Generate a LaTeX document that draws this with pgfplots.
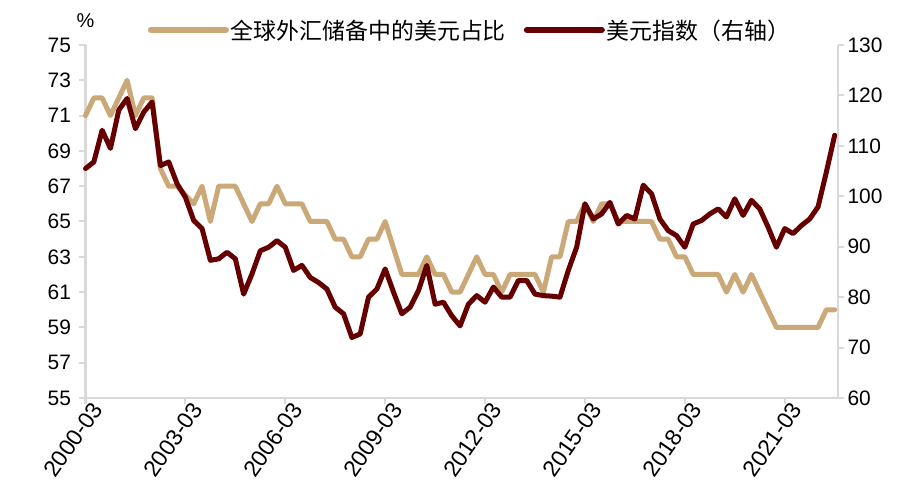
\documentclass[border=0pt]{standalone}
\usepackage{fontspec}
\setmainfont{Liberation Sans}
\newfontfamily\cjk{Noto Sans CJK SC}
\usepackage{pgfplots}
\usepackage{pgfplotstable}
\pgfplotsset{compat=1.18}
\definecolor{tanc}{RGB}{202,168,120}
\definecolor{dred}{RGB}{102,0,0}
\definecolor{axgray}{RGB}{217,217,217}

\pgfplotstableread{
idx share usd
0 71 105.5
1 72 106.8
2 72 113.1
3 71 109.5
4 72 117.1
5 73 119.4
6 71 113.4
7 72 116.7
8 72 118.7
9 68 106.1
10 67 106.8
11 67 102.5
12 66.5 99.8
13 66 95.2
14 67 93.6
15 65 87.3
16 67 87.6
17 67 88.9
18 67 87.6
19 66 80.6
20 65 84.6
21 66 89.2
22 66 89.9
23 67 91.2
24 66 89.9
25 66 85.3
26 66 86.3
27 65 83.9
28 65 82.9
29 65 81.6
30 64 78.0
31 64 76.7
32 63 72.0
33 63 72.7
34 64 80.0
35 64 81.6
36 65 85.6
37 63.5 81.0
38 62 76.7
39 62 78.0
40 62 81.3
41 63 86.3
42 62 78.6
43 62 79.0
44 61 76.3
45 61 74.3
46 62 78.6
47 63 80.3
48 62 79.0
49 62 82.0
50 61 80.0
51 62 80.0
52 62 83.3
53 62 83.3
54 62 80.6
55 61 80.3
56 63 80.2
57 63 80.0
58 65 85.3
59 65 89.9
60 66 98.5
61 65 95.5
62 66 96.5
63 66 98.8
64 65 94.5
65 65 96.2
66 65 95.5
67 65 102.2
68 65 100.5
69 64 95.5
70 64 93.2
71 63 92.2
72 63 89.9
73 62 94.5
74 62 95.2
75 62 96.5
76 62 97.5
77 61 95.9
78 62 99.5
79 61 96.2
80 62 99.2
81 61 97.5
82 60 93.9
83 59 89.9
84 59 93.6
85 59 92.6
86 59 94.2
87 59 95.5
88 59 97.9
89 60 104.8
90 60 112.1
}\data

\begin{document}
\begin{tikzpicture}
\pgfplotsset{
  base/.style={
    scale only axis, width=752.5bp, height=353bp,
    xmin=0, xmax=90.4,
    at={(0,0)}, anchor=south west,
    axis line style={axgray, line width=2.5bp},
    tick style={axgray, line width=2bp},
    major tick length=6bp,
    tick align=outside,
    /pgf/number format/assume math mode=true,
    tick label style={font=\fontsize{21}{21}\selectfont, black},
    clip=false,
  },
}
\begin{axis}[base,
  axis y line*=left, axis x line*=bottom,
  ymin=55, ymax=75, ytick={55,57,...,75},
  yticklabel style={xshift=-5bp},
  xtick={0,12,...,84},
  xticklabels={2000-03,2003-03,2006-03,2009-03,2012-03,2015-03,2018-03,2021-03},
  x tick label style={rotate=55, anchor=north east, inner sep=2bp, xshift=8bp,
    font=\fontsize{23}{23}\selectfont},
  legend columns=2,
  legend style={draw=none, fill=none, at={(0.511,1.0425)}, anchor=center,
    font=\cjk\fontsize{23}{23}\selectfont,
    /tikz/every even column/.append style={column sep=16bp}},
  legend image code/.code={\draw[#1] (0bp,0bp) -- (75bp,0bp);},
]
\addlegendimage{tanc, line width=6bp, line cap=round}
\addlegendentry{全球外汇储备中的美元占比}
\addlegendimage{dred, line width=6bp, line cap=round}
\addlegendentry{美元指数（右轴）}
\addplot[tanc, line width=5bp, line join=round, line cap=round] table[x=idx,y=share]{\data};
\node[anchor=south, font=\fontsize{20}{20}\selectfont] at (rel axis cs:0,1) [yshift=14bp] {\%};
\end{axis}
\begin{axis}[base,
  axis y line*=right, axis x line=none,
  ymin=60, ymax=130, ytick={60,70,...,130},
]
\addplot[dred, line width=5bp, line join=round, line cap=round] table[x=idx,y=usd]{\data};
\end{axis}
\pgfresetboundingbox
\useasboundingbox (-85.5bp,-103bp) rectangle (815.5bp,398bp);
\end{tikzpicture}
\end{document}
